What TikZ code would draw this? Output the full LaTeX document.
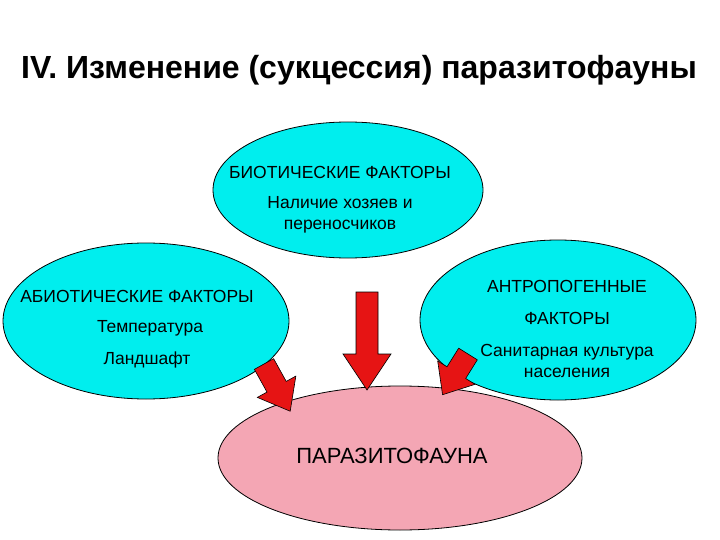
\documentclass[tikz,border=0pt]{standalone}
\usepackage{fontspec}
\setmainfont{Liberation Sans}
\begin{document}
\begin{tikzpicture}[x=1pt,y=-1pt,
  txt/.style={font=\fontsize{17.5}{21}\selectfont,align=center,inner sep=0},
  barrow/.style={draw=black,fill={rgb,255:red,230;green,20;blue,20},line width=0.6pt}]
\useasboundingbox (0,0) rectangle (720,540);
\fill[white] (0,0) rectangle (720,540);
\node[txt,font=\fontsize{32}{38}\selectfont\bfseries] (title) at (359,70) {IV. Изменение (сукцессия) паразитофауны};
\filldraw[line width=0.8pt,fill={rgb,255:red,0;green,238;blue,238}] (348,190) ellipse (135 and 68);
\filldraw[line width=0.8pt,fill={rgb,255:red,0;green,238;blue,238}] (146,321) ellipse (143 and 78);
\filldraw[line width=0.8pt,fill={rgb,255:red,0;green,238;blue,238}] (558,320) ellipse (138 and 80);
\filldraw[line width=0.8pt,fill={rgb,255:red,244;green,166;blue,180}] (400,458) ellipse (182 and 72);
\node[txt] (b1) at (340,172) {БИОТИЧЕСКИЕ ФАКТОРЫ};
\node[txt] (b2) at (340,215) {Наличие хозяев и\\переносчиков};
\node[txt] (a1) at (137,296) {АБИОТИЧЕСКИЕ ФАКТОРЫ};
\node[txt] (a2) at (150,328) {Температура};
\node[txt] (a3) at (147,360) {Ландшафт};
\node[txt] (n1) at (567,286) {АНТРОПОГЕННЫЕ};
\node[txt] (n2) at (567,318) {ФАКТОРЫ};
\node[txt] (n3) at (567,361) {Санитарная культура\\населения};
\node[txt,font=\fontsize{22}{26}\selectfont] (p) at (392,456) {ПАРАЗИТОФАУНА};
% middle arrow
\begin{scope}[shift={(367,292)},rotate=-90]
\draw[barrow] (0,-11) -- (62,-11) -- (62,-24) -- (98,0) -- (62,24) -- (62,11) -- (0,11) -- cycle;
\end{scope}
% left arrow
\begin{scope}[shift={(264,364)},rotate=-61]
\draw[barrow] (0,-11) -- (26,-11) -- (26,-22) -- (54,0) -- (26,22) -- (26,11) -- (0,11) -- cycle;
\end{scope}
% right arrow
\begin{scope}[shift={(468,354)},rotate=-122]
\draw[barrow] (0,-11) -- (22,-11) -- (22,-22) -- (48,0) -- (22,22) -- (22,11) -- (0,11) -- cycle;
\end{scope}
\end{tikzpicture}
\end{document}
